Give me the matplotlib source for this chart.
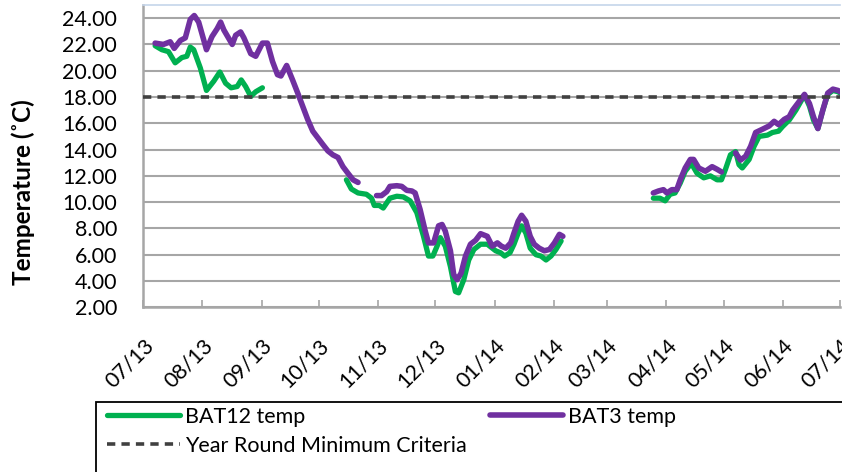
import matplotlib.pyplot as plt
import matplotlib.dates as mdates
import matplotlib.patches as mpatches
import numpy as np
import pandas as pd

plt.rcParams["font.family"] = ["Lato", "DejaVu Sans"]

# days counted from 2013-07-01, nan marks a gap in the logger record
START = pd.Timestamp("2013-07-01")
NAN = np.nan

bat12_day = [
    6.2, 9.7, 13.2, 16.7, 20.2, 22.8, 24.6, 26.4, 29.9, 33.1, 36.9, 40.1, 43.1,
    46.0, 49.2, 51.3, 53.6, 56.3, 58.9, 62.4,
    80.0,
    106.4, 109.0, 112.5, 116.9, 119.6, 121.0, 123.6, 125.7, 129.2, 132.8, 136.2,
    139.8, 143.3, 146.8, 149.4, 151.7, 153.9, 155.6, 158.2, 160.9, 163.5, 165.2,
    167.9, 170.5, 173.2, 176.7, 180.2, 184.6, 187.2, 189.3, 192.1, 194.2, 196.4,
    198.2, 200.4, 202.7, 205.7, 208.3, 211.0, 213.6, 216.2, 218.9,
    240.0,
    267.2, 270.7, 273.4, 276.0, 278.6, 281.3, 283.9, 287.1, 290.1, 293.6, 297.1,
    300.6, 302.9, 305.0, 307.6, 310.3, 312.1, 313.8, 317.4, 320.0, 322.6, 327.0,
    329.6, 332.8, 334.9, 338.4, 341.9, 346.4, 349.0, 351.1, 353.4, 356.0, 358.6,
    361.3, 363.9, 365.7,
]
bat12_temp = [
    21.9, 21.6, 21.45, 20.6, 21.0, 21.1, 21.8, 21.6, 20.2, 18.5, 19.2, 19.9, 19.05,
    18.7, 18.8, 19.3, 18.8, 18.05, 18.4, 18.7,
    NAN,
    11.7, 11.0, 10.7, 10.6, 10.3, 9.75, 9.75, 9.55, 10.3, 10.45, 10.4,
    10.1, 9.2, 7.4, 5.9, 5.9, 6.65, 7.3, 6.65, 5.1, 3.2, 3.1,
    4.1, 5.6, 6.4, 6.8, 6.8, 6.3, 6.15, 5.9, 6.15, 6.8, 7.65,
    8.2, 7.65, 6.5, 6.0, 5.9, 5.6, 5.9, 6.4, 7.05,
    NAN,
    10.3, 10.3, 10.1, 10.6, 10.7, 11.45, 12.35, 12.95, 12.2, 11.85, 12.0,
    11.7, 11.7, 12.5, 13.6, 13.85, 12.85, 12.6, 13.25, 14.25, 15.0, 15.1,
    15.3, 15.4, 15.75, 16.25, 17.0, 18.15, 17.3, 16.25, 15.6, 17.0, 18.2,
    18.5, 18.4, 18.25,
]

bat3_day = [
    6.2, 10.5, 14.1, 16.2, 19.4, 22.0, 24.6, 26.7, 29.0, 33.1, 36.0, 38.7, 40.5,
    42.2, 46.6, 48.4, 51.0, 52.7, 56.3, 58.9, 62.4, 65.0, 67.7, 70.3, 72.1, 75.1,
    78.2, 80.9, 83.5, 86.1, 88.8, 91.4, 94.0, 96.7, 99.3, 102.0, 104.6, 107.2,
    109.9, 112.5,
    117.0,
    122.2, 124.8, 127.5, 129.2, 132.8, 135.4, 138.0, 140.7, 142.4, 145.0, 147.7,
    149.4, 152.1, 154.7, 156.5, 158.2, 160.9, 162.6, 164.4, 166.5, 168.8, 171.4,
    174.1, 176.7, 180.2, 182.8, 185.5, 187.6, 189.9, 192.5, 194.2, 196.4, 198.2,
    200.4, 202.7, 204.8, 207.4, 210.1, 212.8, 215.4, 218.0, 219.8,
    240.0,
    267.2, 269.9, 272.5, 274.3, 276.9, 279.5, 281.3, 283.9, 286.6, 288.3, 291.0,
    294.5, 298.0, 300.6, 302.9,
    306.5,
    310.3, 312.9, 315.6, 318.2, 320.8, 324.4, 327.9, 330.5, 332.8, 335.8, 338.4,
    340.2, 342.8, 346.4, 349.0, 351.1, 353.4, 356.0, 358.6, 361.3, 363.9, 365.7,
]
bat3_temp = [
    22.1, 22.0, 22.2, 21.7, 22.3, 22.5, 23.9, 24.2, 23.7, 21.6, 22.6, 23.2, 23.7,
    23.1, 22.0, 22.7, 22.95, 22.5, 21.3, 21.1, 22.1, 22.1, 20.7, 19.7, 19.6, 20.4,
    19.3, 18.3, 17.3, 16.3, 15.4, 14.9, 14.4, 13.9, 13.6, 13.4, 12.7, 12.2,
    11.7, 11.5,
    NAN,
    10.5, 10.5, 10.8, 11.2, 11.25, 11.2, 10.9, 10.85, 10.7, 9.45, 7.8,
    6.9, 6.9, 8.2, 8.3, 7.8, 6.3, 4.5, 4.1, 4.6, 5.9, 6.8,
    7.1, 7.6, 7.4, 6.65, 6.9, 6.65, 6.5, 6.9, 7.65, 8.55, 9.0,
    8.55, 7.4, 6.8, 6.5, 6.3, 6.4, 6.9, 7.55, 7.4,
    NAN,
    10.7, 10.85, 10.95, 10.7, 10.95, 10.95, 11.7, 12.6, 13.25, 13.25, 12.6,
    12.35, 12.7, 12.5, 12.3,
    NAN,
    13.75, 13.2, 13.5, 14.25, 15.3, 15.55, 15.8, 16.15, 15.9, 16.3, 16.5,
    17.0, 17.5, 18.2, 17.5, 16.5, 15.6, 17.0, 18.3, 18.6, 18.5, 18.35,
]

criteria = 18.0
y_ticks = np.arange(2, 25, 2)

green = "#00B050"
purple = "#7030A0"
W, H = 842, 472
FS = 15.5

fig = plt.figure(figsize=(W / 100, H / 100), dpi=100)
ax = fig.add_axes([143.3 / W, 1 - 307.3 / H, 696.7 / W, 302.3 / H])

x0 = mdates.date2num(START)
ln_g, = ax.plot(x0 + np.array(bat12_day), bat12_temp, color=green, lw=3.8,
                solid_capstyle="round", solid_joinstyle="round", zorder=3)
ln_p, = ax.plot(x0 + np.array(bat3_day), bat3_temp, color=purple, lw=4.0,
                solid_capstyle="round", solid_joinstyle="round", zorder=4)
ln_c = ax.axhline(criteria, color="#404040", lw=2.6, dashes=(2.3, 1.7), zorder=5)

ax.set_xlim(x0, mdates.date2num(pd.Timestamp("2014-07-01")))
ax.set_ylim(2, 25)
ax.set_yticks(y_ticks)
ax.set_yticklabels([f"{v:.2f}" for v in y_ticks])
ax.yaxis.grid(True, color="#A6A6A6", lw=1.5, zorder=0)
ax.set_axisbelow(True)

ax.xaxis.set_major_locator(mdates.MonthLocator())
ax.xaxis.set_major_formatter(mdates.DateFormatter("%m/%y"))
for lbl in ax.get_xticklabels():
    lbl.set_rotation(45)
    lbl.set_ha("right")
    lbl.set_rotation_mode("anchor")

ax.tick_params(axis="x", direction="in", length=5, width=1.2, color="#A6A6A6",
               labelsize=FS, pad=20)
ax.tick_params(axis="y", length=0, labelsize=FS, pad=19)

for side in ["left", "bottom"]:
    ax.spines[side].set_color("#A6A6A6")
    ax.spines[side].set_linewidth(1.8)
ax.spines["right"].set_visible(False)
ax.spines["top"].set_color("#C5D5EA")
ax.spines["top"].set_linewidth(1.2)

fig.text(23 / W, 1 - 192 / H, "Temperature (˚C)", rotation=90, fontsize=17.5,
         fontweight="bold", ha="center", va="center")

# legend: box runs off the bottom-right corner of the image
fig.add_artist(mpatches.Rectangle((95.7 / W, -0.1), 1.0, 0.1 + 1 - 402 / H,
                                  transform=fig.transFigure, fill=False,
                                  edgecolor="black", lw=1.3))
fig.legend(handles=[ln_g, ln_c, ln_p],
           labels=["BAT12 temp", "Year Round Minimum Criteria", "BAT3 temp"],
           ncol=2, loc="upper left", bbox_to_anchor=(107 / W, 1 - 407 / H),
           frameon=False, fontsize=FS, handlelength=3.4, handletextpad=0.23,
           columnspacing=1.07, labelspacing=0.4, borderpad=0,
           borderaxespad=0)

fig.savefig("out.png", dpi=100)
